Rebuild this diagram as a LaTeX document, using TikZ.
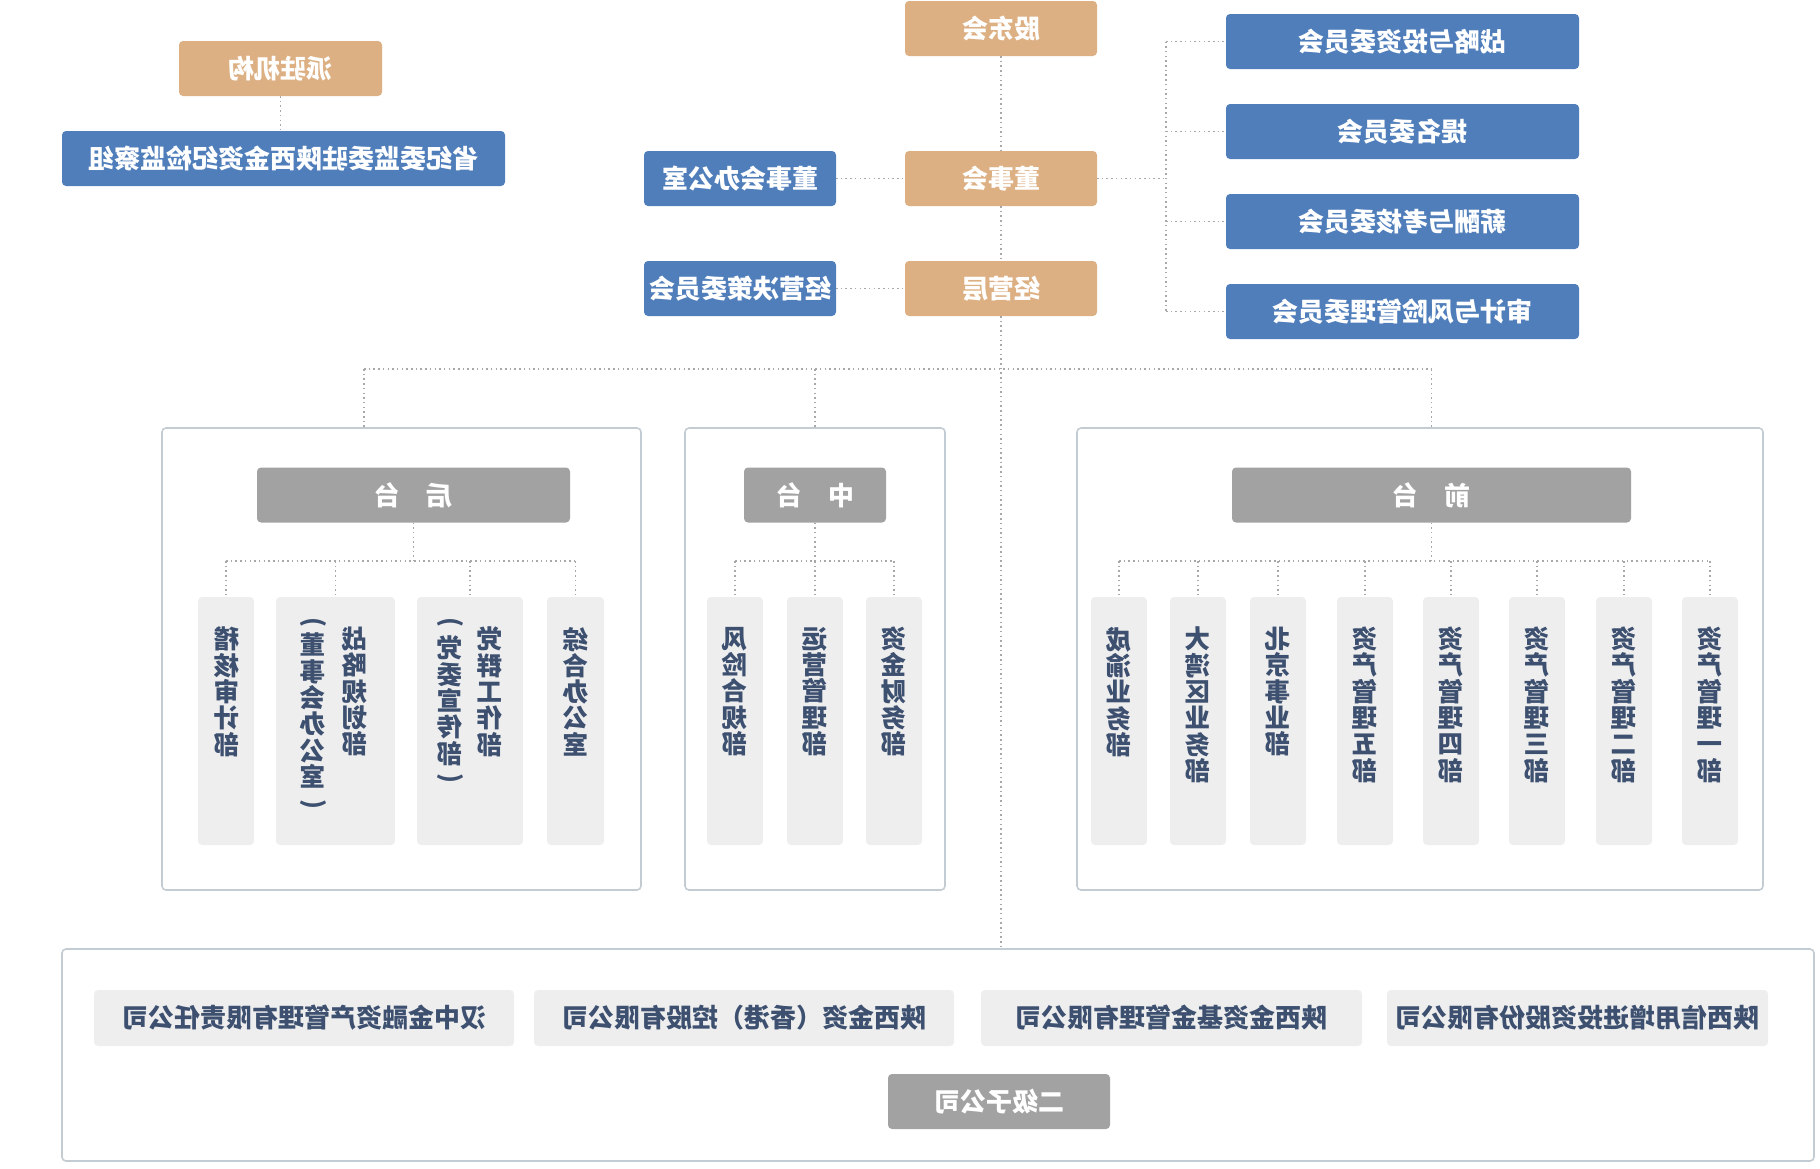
\documentclass[tikz,border=0pt]{standalone}
\usepackage{fontspec}
\setmainfont{Noto Sans CJK SC}
\definecolor{tanc}{HTML}{DDB084}
\definecolor{bluec}{HTML}{4F7EBB}
\definecolor{grayh}{HTML}{A2A2A2}
\definecolor{colf}{HTML}{EEEEEE}
\definecolor{panelb}{HTML}{C4CCD3}
\definecolor{dotc}{HTML}{A8A8A8}
\definecolor{txtc}{HTML}{3D5070}
\tikzset{
  every node/.style={inner sep=0pt, outer sep=0pt},
  box/.style={rounded corners=4pt, text=white, font=\bfseries\fontsize{26}{30}\selectfont, xscale=-1},
  tanbox/.style={box, fill=tanc, minimum height=55},
  bluebox/.style={box, fill=bluec, minimum height=55},
  headbox/.style={box, fill=grayh, minimum height=55},
  panel/.style={draw=panelb, line width=1.6pt, rounded corners=4pt},
  colbox/.style={fill=colf, rounded corners=4pt, minimum height=248},
  vtext/.style={text=txtc, font=\bfseries\fontsize{25.5}{26.3}\selectfont, align=center, anchor=north, xscale=-1},
  vparen/.style={text=txtc, font=\bfseries\fontsize{25}{26}\selectfont, rotate=-90},
  subbox/.style={fill=colf, rounded corners=4pt, text=txtc, font=\bfseries\fontsize{26}{30}\selectfont, xscale=-1, minimum height=56},
  conn/.style={draw=dotc, line width=1.5pt, dash pattern=on 1.5pt off 3.2pt},
}
\begin{document}
\begin{tikzpicture}[x=1pt,y=-1pt]
\useasboundingbox (0,0) rectangle (1820,1168);
% top left
\node[tanbox, minimum width=203] (pz) at (280.5,68.5) {派驻机构};
\node[bluebox, minimum width=443] (jj) at (283.5,158.5) {省纪委监委驻陕西金资纪检监察组};
% centre
\node[tanbox, minimum width=192] (gd) at (1001,28.5) {股东会};
\node[tanbox, minimum width=192] (dsh) at (1001,178.5) {董事会};
\node[tanbox, minimum width=192] (jyc) at (1001,288.5) {经营层};
\node[bluebox, minimum width=192] (dsb) at (740,178.5) {董事会办公室};
\node[bluebox, minimum width=192] (jyjc) at (740,288.5) {经营决策委员会};
% committees
\node[bluebox, minimum width=353] (c1) at (1402.5,41.5) {战略与投资委员会};
\node[bluebox, minimum width=353] (c2) at (1402.5,131.5) {提名委员会};
\node[bluebox, minimum width=353] (c3) at (1402.5,221.5) {薪酬与考核委员会};
\node[bluebox, minimum width=353] (c4) at (1402.5,311.5) {审计与风险管理委员会};
% panels
\node[panel, minimum width=479, minimum height=462] (ph) at (401.5,659) {};
\node[panel, minimum width=260, minimum height=462] (zp) at (815,659) {};
\node[panel, minimum width=686, minimum height=462] (qp) at (1420,659) {};
\node[panel, minimum width=1752, minimum height=212] (bp) at (938,1055) {};
% headers
\node[headbox, minimum width=313] (hh) at (413.5,495) {后　台};
\node[headbox, minimum width=142] (zh) at (815,495) {中　台};
\node[headbox, minimum width=399] (qh) at (1431.5,495) {前　台};
% columns
\node[colbox, minimum width=56] (h1) at (226,721) {};
\node[colbox, minimum width=119] (h2) at (335.5,721) {};
\node[colbox, minimum width=106] (h3) at (470,721) {};
\node[colbox, minimum width=57] (h4) at (575.5,721) {};
\node[colbox, minimum width=56] (z1) at (735,721) {};
\node[colbox, minimum width=56] (z2) at (815,721) {};
\node[colbox, minimum width=56] (z3) at (894,721) {};
\node[colbox, minimum width=56] (q1) at (1119,721) {};
\node[colbox, minimum width=56] (q2) at (1198,721) {};
\node[colbox, minimum width=56] (q3) at (1278,721) {};
\node[colbox, minimum width=56] (q4) at (1365,721) {};
\node[colbox, minimum width=56] (q5) at (1451,721) {};
\node[colbox, minimum width=56] (q6) at (1537,721) {};
\node[colbox, minimum width=56] (q7) at (1624,721) {};
\node[colbox, minimum width=56] (q8) at (1710,721) {};
% column texts
\node[vtext] (th1) at (227,627) {稽\\核\\审\\计\\部};
\node[vtext] (th2a) at (355,627) {战\\略\\规\\划\\部};
\node[vparen] (p2a) at (313,622) {(};
\node[vtext] (th2b) at (313,633) {董\\事\\会\\办\\公\\室};
\node[vparen] (p2b) at (313,804) {)};
\node[vtext] (th3a) at (490,627) {党\\群\\工\\作\\部};
\node[vparen] (p3a) at (450,622) {(};
\node[vtext] (th3b) at (450,636) {党\\委\\宣\\传\\部};
\node[vparen] (p3b) at (450,778) {)};
\node[vtext] (th4) at (576,627) {综\\合\\办\\公\\室};
\node[vtext] (tz1) at (735,627) {风\\险\\合\\规\\部};
\node[vtext] (tz2) at (815,627) {运\\营\\管\\理\\部};
\node[vtext] (tz3) at (894,627) {资\\金\\财\\务\\部};
\node[vtext] (tq1) at (1119,627) {成\\渝\\业\\务\\部};
\node[vtext] (tq2) at (1198,627) {大\\湾\\区\\业\\务\\部};
\node[vtext] (tq3) at (1278,627) {北\\京\\事\\业\\部};
\node[vtext] (tq4) at (1365,627) {资\\产\\管\\理\\五\\部};
\node[vtext] (tq5) at (1451,627) {资\\产\\管\\理\\四\\部};
\node[vtext] (tq6) at (1537,627) {资\\产\\管\\理\\三\\部};
\node[vtext] (tq7) at (1624,627) {资\\产\\管\\理\\二\\部};
\node[vtext] (tq8) at (1710,627) {资\\产\\管\\理\\一\\部};
% subsidiaries
\node[subbox, minimum width=420] (s1) at (304,1018) {汉中金融资产管理有限责任公司};
\node[subbox, minimum width=420] (s2) at (744,1018) {陕西金资（香港）控股有限公司};
\node[subbox, minimum width=381] (s3) at (1171.5,1018) {陕西金资基金管理有限公司};
\node[subbox, minimum width=381] (s4) at (1577.5,1018) {陕西信用增进投资股份有限公司};
\node[headbox, minimum width=222] (ej) at (999,1101.5) {二级子公司};
% connectors
\draw[conn] (pz.south) -- (pz.south |- jj.north);
\draw[conn] (gd) -- (dsh);
\draw[conn] (dsh) -- (jyc);
\draw[conn] (dsb) -- (dsh);
\draw[conn] (jyjc) -- (jyc);
\coordinate (k1) at (1166,41.5);
\coordinate (k2) at (1166,131.5);
\coordinate (k3) at (1166,221.5);
\coordinate (k4) at (1166,311.5);
\draw[conn] (k1) -- (k4);
\foreach \i in {1,2,3,4} {\draw[conn] (k\i) -- (c\i);}
\draw[conn] (dsh) -- (dsh -| k1);
\draw[conn] (jyc) -- (jyc |- bp.north);
\coordinate (bl) at (364,369);
\coordinate (br) at (1431.5,369);
\draw[conn] (bl) -- (br);
\draw[conn] (bl) -- (bl |- ph.north);
\draw[conn] (zp.north |- bl) -- (zp.north);
\draw[conn] (br) -- (br |- qp.north);
\coordinate (hsl) at (226,561);
\coordinate (hsr) at (575.5,561);
\coordinate (zsl) at (735,561);
\coordinate (zsr) at (894,561);
\coordinate (qsl) at (1119,561);
\coordinate (qsr) at (1710,561);
\draw[conn] (hh.south) -- (hh.south |- hsl);
\draw[conn] (zh.south) -- (zh.south |- zsl);
\draw[conn] (qh.south) -- (qh.south |- qsl);
\draw[conn] (hsl) -- (hsr);
\draw[conn] (zsl) -- (zsr);
\draw[conn] (qsl) -- (qsr);
\foreach \c in {h1,h2,h3,h4} {\draw[conn] (\c.north |- hsl) -- (\c.north);}
\foreach \c in {z1,z2,z3} {\draw[conn] (\c.north |- zsl) -- (\c.north);}
\foreach \c in {q1,q2,q3,q4,q5,q6,q7,q8} {\draw[conn] (\c.north |- qsl) -- (\c.north);}
\end{tikzpicture}
\end{document}
